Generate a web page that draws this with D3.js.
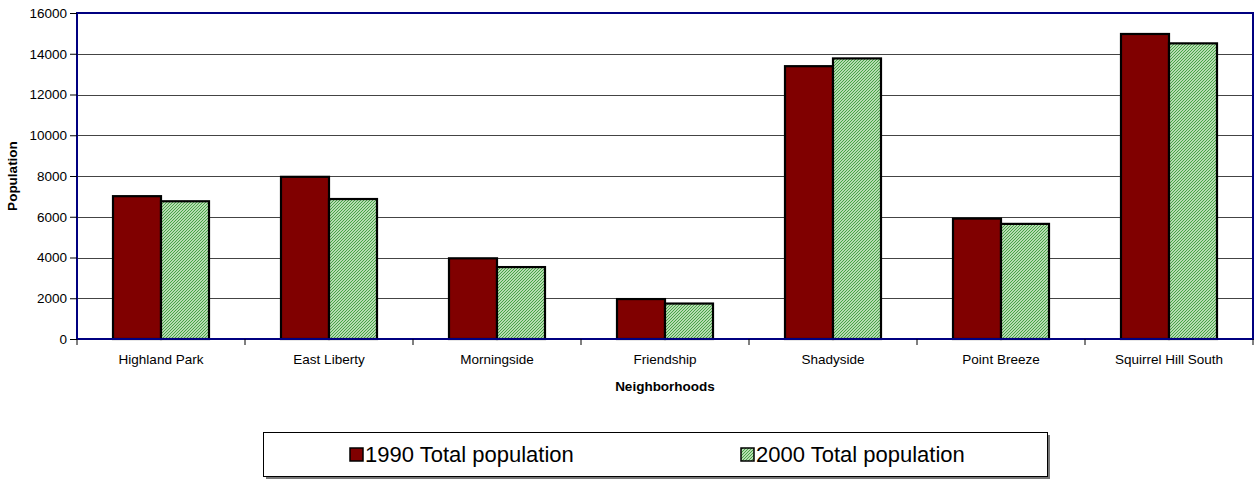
<!DOCTYPE html>
<html><head><meta charset="utf-8">
<script src="https://cdn.jsdelivr.net/npm/d3@7"></script>
<style>body{margin:0;background:#fff;}svg{display:block;font-family:Arial,"Liberation Sans",sans-serif;}</style>
</head><body>
<script>
const categories = ["Highland Park","East Liberty","Morningside","Friendship","Shadyside","Point Breeze","Squirrel Hill South"];
const seriesNames = ["1990 Total population","2000 Total population"];
const pop1990 = [7010, 7960, 3960, 1960, 13390, 5910, 14970];
const pop2000 = [6760, 6870, 3530, 1740, 13770, 5650, 14510];
const yTicks = [0,2000,4000,6000,8000,10000,12000,14000,16000];

const W = 1257, H = 481;
const FONT = "Arial, 'Liberation Sans', sans-serif";
const m = {l:77, r:1253, t:13, b:339};
const svg = d3.select("body").append("svg").attr("width",W).attr("height",H);
const defs = svg.append("defs");
const pat = defs.append("pattern").attr("id","hatch").attr("patternUnits","userSpaceOnUse")
  .attr("width",3).attr("height",3);
pat.append("rect").attr("width",3).attr("height",3).attr("fill","#e6f5e0");
pat.append("path").attr("d","M-1,1 l2,-2 M0,3 l3,-3 M2,4 l2,-2").attr("stroke","#3f9f3f").attr("stroke-width",1.1);

const x0 = d3.scaleBand().domain(categories).range([m.l,m.r]).paddingInner(0).paddingOuter(0);
const bw = x0.bandwidth()/3.5;
const y = d3.scaleLinear().domain([0,16000]).range([m.b,m.t]);

// gridlines
svg.append("g").selectAll("line").data(yTicks.filter(d=>d>0)).join("line")
  .attr("x1",m.l).attr("x2",m.r).attr("y1",d=>Math.round(y(d))+0.5).attr("y2",d=>Math.round(y(d))+0.5)
  .attr("stroke","#444").attr("stroke-width",1);

// bars
const data = categories.map((c,i)=>({c, v:[pop1990[i],pop2000[i]]}));
const fills = ["#800000","url(#hatch)"];
const g = svg.append("g");
data.forEach(d=>{
  d.v.forEach((v,j)=>{
    const cx = x0(d.c)+x0.bandwidth()/2;
    g.append("rect").attr("x",cx-bw+j*bw).attr("width",bw)
      .attr("y",y(v)).attr("height",y(0)-y(v))
      .attr("fill",fills[j]).attr("stroke","#000").attr("stroke-width",2.2);
  });
});

// frame
svg.append("rect").attr("x",m.l).attr("y",m.t).attr("width",m.r-m.l).attr("height",m.b-m.t)
  .attr("fill","none").attr("stroke","#000080").attr("stroke-width",2);

// y axis
const ya = d3.axisLeft(y).tickValues(yTicks).tickSize(7).tickPadding(3).tickFormat(d3.format("d"));
const gy = svg.append("g").attr("transform",`translate(${m.l},0)`).call(ya);
gy.select(".domain").remove();
gy.selectAll("text").attr("font-size",13.5).attr("fill","#000").attr("font-family",FONT);
gy.selectAll("line").attr("stroke","#000");

// x axis
const xa = d3.axisBottom(x0).tickSize(0).tickPadding(15);
const gx = svg.append("g").attr("transform",`translate(0,${m.b})`).call(xa);
gx.select(".domain").remove();
gx.selectAll("text").attr("font-size",13.5).attr("fill","#000").attr("font-family",FONT);
svg.append("g").selectAll("line").data(d3.range(categories.length+1)).join("line")
  .attr("x1",i=>m.l+i*x0.bandwidth()).attr("x2",i=>m.l+i*x0.bandwidth())
  .attr("y1",m.b).attr("y2",m.b+6).attr("stroke","#000");

// axis titles
svg.append("text").attr("transform",`translate(17,${(m.t+m.b)/2}) rotate(-90)`)
  .attr("text-anchor","middle").attr("font-size",13.5).attr("font-weight","bold").text("Population");
svg.append("text").attr("x",(m.l+m.r)/2).attr("y",391).attr("text-anchor","middle")
  .attr("font-size",13.5).attr("font-weight","bold").text("Neighborhoods");

// legend
const lg = svg.append("g");
lg.append("rect").attr("x",266).attr("y",435).attr("width",784).attr("height",44)
  .attr("fill","#777");
lg.append("rect").attr("x",263.5).attr("y",432.5).attr("width",784).attr("height",44)
  .attr("fill","#fff").attr("stroke","#000").attr("stroke-width",1);
const legX = [350, 741];
seriesNames.forEach((s,j)=>{
  lg.append("rect").attr("x",legX[j]).attr("y",448).attr("width",13).attr("height",13)
    .attr("fill",fills[j]).attr("stroke","#000").attr("stroke-width",1.5);
  lg.append("text").attr("x",legX[j]+15).attr("y",462).attr("font-size",22).attr("fill","#000").text(s);
});
</script>
</body></html>
